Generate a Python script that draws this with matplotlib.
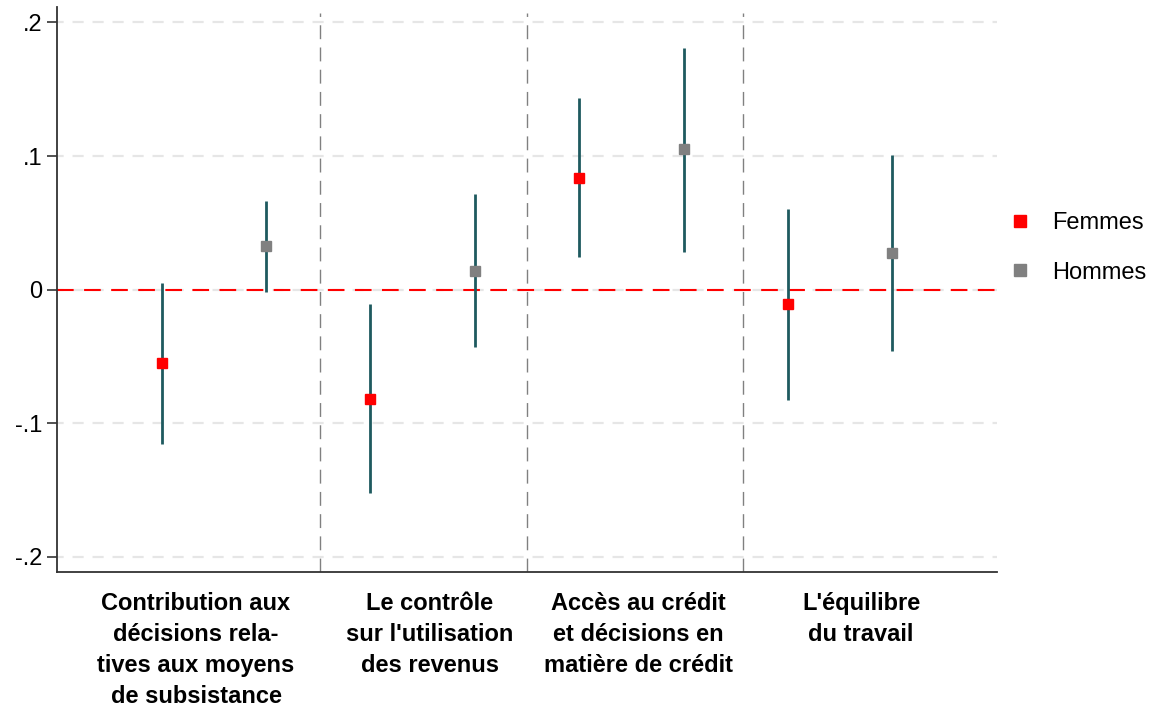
import numpy as np
import matplotlib
matplotlib.use("Agg")
import matplotlib.pyplot as plt
from matplotlib.lines import Line2D
import matplotlib.transforms as mtransforms

plt.rcParams['font.family'] = ['Liberation Sans', 'DejaVu Sans']

# estimates (femmes / hommes) per domain, with 95% CI bounds
categories = ["Contribution aux\ndécisions rela-\ntives aux moyens\nde subsistance",
              "Le contrôle\nsur l'utilisation\ndes revenus",
              "Accès au crédit\net décisions en\nmatière de crédit",
              "L'équilibre\ndu travail"]
femmes = [-0.0551, -0.0818, 0.0838, -0.0109]
femmes_lo = [-0.1157, -0.1524, 0.0245, -0.0826]
femmes_hi = [0.0052, -0.0107, 0.1433, 0.0604]
hommes = [0.0327, 0.0142, 0.1051, 0.0277]
hommes_lo = [-0.0017, -0.0430, 0.0284, -0.0457]
hommes_hi = [0.0666, 0.0714, 0.1811, 0.1008]

x_f = np.array([1, 3, 5, 7])
x_h = np.array([2, 4, 6, 8])
separators = [2.517, 4.50, 6.57]
label_x = [1.329, 3.571, 5.564, 7.70]
yticks = [-0.2, -0.1, 0, 0.1, 0.2]
ytick_labels = ["-.2", "-.1", "0", ".1", ".2"]

ci_color = '#1e5a5f'

fig = plt.figure(figsize=(11.51, 7.07), dpi=100)
ax = fig.add_axes([57.3 / 1151, 1 - 572 / 707, (996.7 - 57.3) / 1151, (572 - 7) / 707])

ax.set_xlim(0, 9)
ax.set_ylim(-0.2113, 0.2116)

for y in yticks:
    ax.axhline(y, color='#e6e6e6', lw=1.6, ls=(2, (5, 4)), zorder=0)
ax.axhline(0, color='#ff0000', lw=1.5, ls=(0, (8, 5)), zorder=1)
for s in separators:
    ax.axvline(s, ymax=0.989, color='#808080', lw=1.0, ls=(0, (10, 6)), zorder=1)

# confidence intervals
ax.vlines(x_f, femmes_lo, femmes_hi, color=ci_color, lw=2.0, zorder=2)
ax.vlines(x_h, hommes_lo, hommes_hi, color=ci_color, lw=2.0, zorder=2)
ax.plot(x_f, femmes, 's', color='#ff0000', ms=7.8, mec='#ff0000', zorder=3)
ax.plot(x_h, hommes, 's', color='#808080', ms=7.8, mec='#808080', zorder=3)

ax.set_yticks(yticks)
ax.set_yticklabels(ytick_labels, fontsize=17)
ax.set_xticks([])
ax.tick_params(axis='y', length=7, width=1.2, color='#333333', pad=4)
for side in ['top', 'right']:
    ax.spines[side].set_visible(False)
for side in ['left', 'bottom']:
    ax.spines[side].set_color('#333333')
    ax.spines[side].set_linewidth(1.3)

trans = mtransforms.blended_transform_factory(ax.transData, fig.transFigure)
for lx, lab in zip(label_x, categories):
    ax.text(lx, 1 - 592 / 707, lab, transform=trans, ha='center', va='top',
            fontsize=17, fontweight='bold', linespacing=1.45)

handles = [Line2D([], [], marker='s', ls='none', color='#ff0000', ms=8),
           Line2D([], [], marker='s', ls='none', color='#808080', ms=8)]
fig.legend(handles, ["Femmes", "Hommes"], loc='center left',
           bbox_to_anchor=(1008 / 1151, 1 - 248 / 707), frameon=False,
           fontsize=17, handlelength=1.0, handletextpad=0.85,
           labelspacing=1.15, borderpad=0, borderaxespad=0)

fig.savefig("out.png", dpi=100)
